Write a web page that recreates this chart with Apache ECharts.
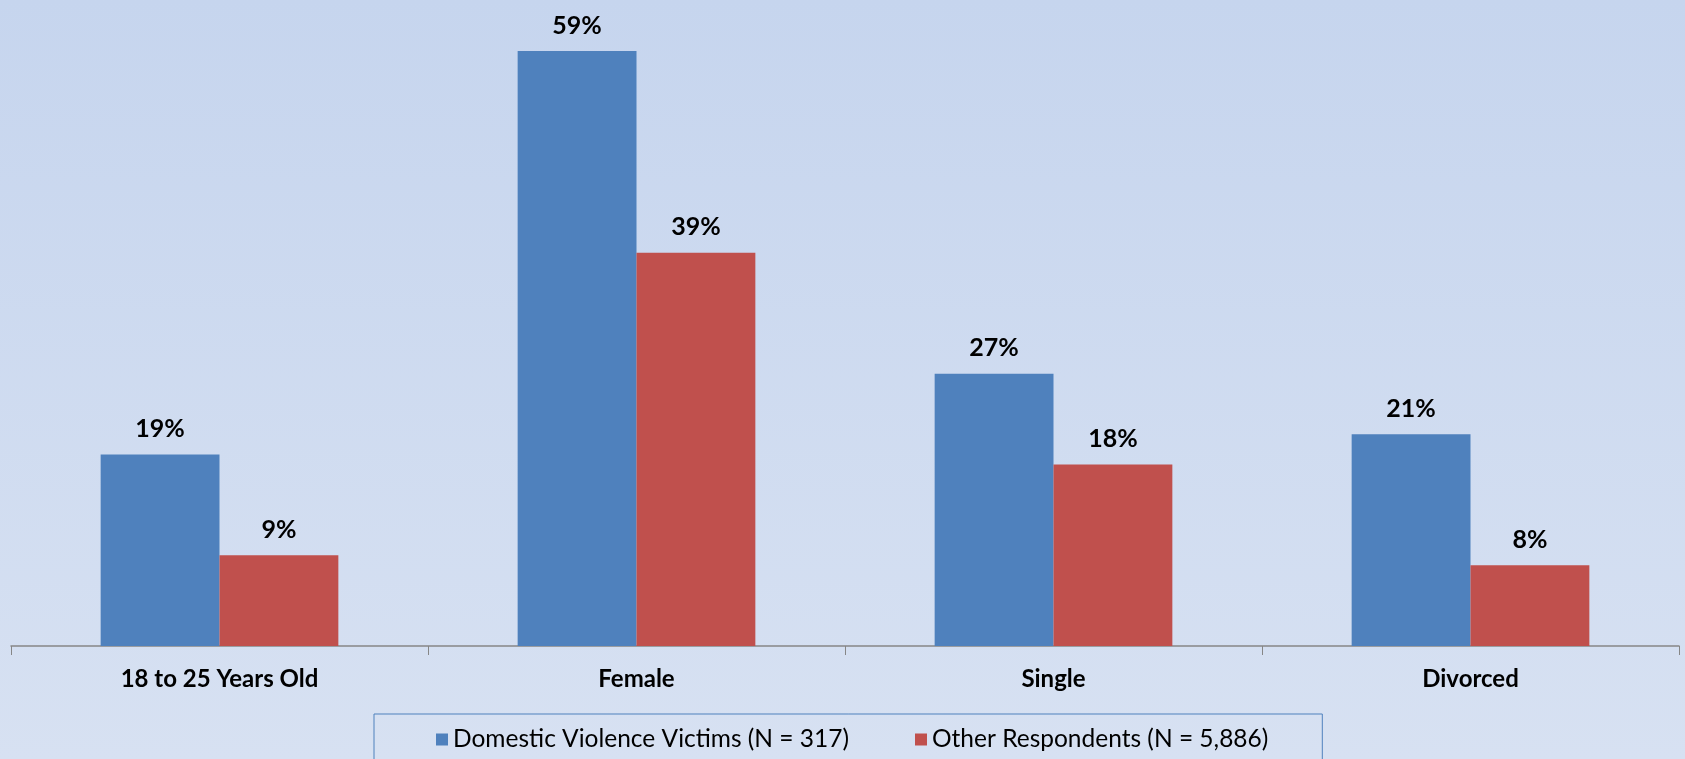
<!DOCTYPE html>
<html>
<head>
<meta charset="UTF-8">
<title>Domestic Violence Victims vs Other Respondents</title>
<script src="https://cdn.jsdelivr.net/npm/echarts@6.0.0/dist/echarts.min.js"></script>
<style>
    html, body { margin: 0; padding: 0; }
    #chart { width: 1685px; height: 759px; }
</style>
</head>
<body>
<div id="chart"></div>
<script>
    // data
    const categories = ['18 to 25 Years Old', 'Female', 'Single', 'Divorced'];
    const victims = [19, 59, 27, 21];
    const others = [9, 39, 18, 8];
    const seriesNames = ['Domestic Violence Victims (N = 317)', 'Other Respondents (N = 5,886)'];

    const chart = echarts.init(document.getElementById('chart'));

    const labelStyle = {
        show: true,
        position: 'top',
        distance: 13,
        formatter: '{c}%',
        fontFamily: 'Lato',
        fontWeight: 'bold',
        fontSize: 25,
        color: '#000'
    };

    chart.setOption({
        backgroundColor: new echarts.graphic.LinearGradient(0, 0, 0, 1, [
            { offset: 0, color: '#c6d5ee' },
            { offset: 1, color: '#d7e1f2' }
        ]),
        animation: false,
        grid: { left: 11, right: 6, top: 41, bottom: 113, containLabel: false },
        legend: {
            data: seriesNames,
            left: 374,
            top: 714,
            padding: [13, 54, 40, 62],
            itemGap: 66,
            itemWidth: 12,
            itemHeight: 12,
            icon: 'rect',
            borderColor: '#4f81bd',
            borderWidth: 1,
            textStyle: { fontFamily: 'Lato', fontSize: 24.5, color: '#000' }
        },
        xAxis: {
            type: 'category',
            data: categories,
            axisLine: { lineStyle: { color: '#868686', width: 1.5 } },
            axisTick: { show: true, length: 9, lineStyle: { color: '#868686' } },
            axisLabel: {
                margin: 21,
                fontFamily: 'Lato',
                fontWeight: 'bold',
                fontSize: 24,
                color: '#000'
            }
        },
        yAxis: {
            type: 'value',
            min: 0,
            max: 60,
            show: false,
            splitLine: { show: false }
        },
        series: [
            {
                name: seriesNames[0],
                type: 'bar',
                data: victims,
                barGap: '0%',
                barCategoryGap: '43%',
                itemStyle: { color: '#4f81bd' },
                label: labelStyle
            },
            {
                name: seriesNames[1],
                type: 'bar',
                data: others,
                itemStyle: { color: '#c0504d' },
                label: labelStyle
            }
        ]
    });
</script>
</body>
</html>
